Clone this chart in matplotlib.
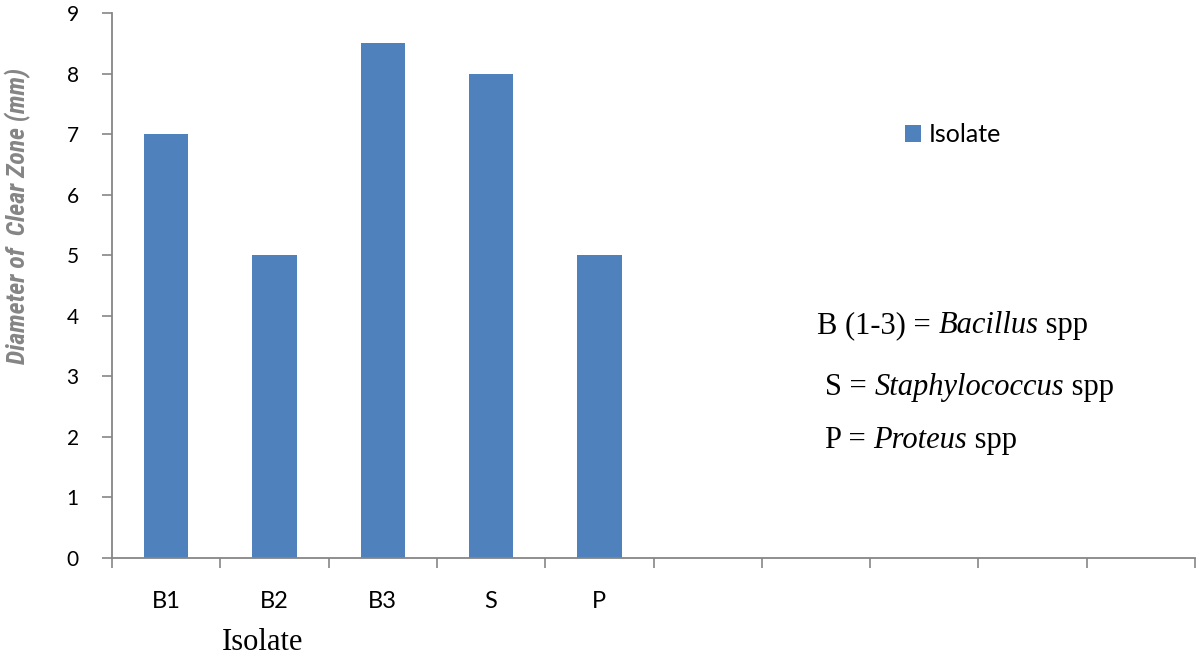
import matplotlib
matplotlib.use("Agg")
import matplotlib.pyplot as plt
import numpy as np

categories = ["B1", "B2", "B3", "S", "P", "", "", "", "", ""]
values = [7, 5, 8.5, 8, 5]
series_name = "Isolate"
yticks = list(range(0, 10))
legend_lines = [
    ("B (1-3) = ", "Bacillus", " spp"),
    ("S = ", "Staphylococcus", " spp"),
    ("P = ", "Proteus", " spp"),
]

fig = plt.figure(figsize=(12, 6.61), dpi=100)
ax = fig.add_axes([112/1200, 1-558/661, (1195-112)/1200, (558-13)/661])

bar_color = "#4F81BD"
axis_color = "#868686"
x = np.arange(len(values))
ax.bar(x, values, width=0.41, color=bar_color, label=series_name, zorder=2)

ax.set_xlim(-0.5, len(categories) - 0.5)
ax.set_ylim(0, 9)
ax.set_yticks(yticks)
ax.set_xticks(np.arange(len(categories)))
ax.set_xticklabels(categories)
ax.set_xticks(np.arange(len(categories) + 1) - 0.5, minor=True)

for s in ["top", "right"]:
    ax.spines[s].set_visible(False)
for s in ["left", "bottom"]:
    ax.spines[s].set_color(axis_color)
    ax.spines[s].set_linewidth(1.3)

tick_font = "Lato"
ax.tick_params(axis='y', which='major', length=7, width=1.2, color=axis_color,
               pad=17, labelsize=15, labelcolor="black")
ax.tick_params(axis='x', which='major', length=0, pad=24, labelsize=17)
ax.tick_params(axis='x', which='minor', length=7, width=1.2, color=axis_color)
for lbl in ax.get_xticklabels() + ax.get_yticklabels():
    lbl.set_fontfamily(tick_font)

fig.text(263/1200, 1-642/661, "Isolate", ha='center', va='center',
         fontsize=22, family="Liberation Serif")

fig.text(18/1200, 1-216/661, "Diameter of  Clear Zone (mm)", rotation=90,
         ha='center', va='center', fontsize=18.5, fontweight='bold', fontstyle='italic',
         family=["Roboto Condensed", "Open Sans Condensed", "Roboto"],
         fontstretch='condensed', color="#858585")

leg = ax.legend(loc='center left', bbox_to_anchor=(905/1200, 1-135/661),
                bbox_transform=fig.transFigure, frameon=False,
                prop={'family': tick_font, 'size': 18},
                handlelength=0.65, handleheight=0.65, handletextpad=0.3,
                borderpad=0, borderaxespad=0)

starts = [(817, 333), (825, 395), (825, 448)]
for (sx, sy), (a, b, c) in zip(starts, legend_lines):
    t1 = fig.text(sx/1200, 1-sy/661, a, ha='left', va='baseline',
                  fontsize=22, family="Liberation Serif")
    t2 = ax.annotate(b, xy=(1, 0), xycoords=t1, ha='left', va='bottom',
                     fontsize=22, family="Liberation Serif", style='italic',
                     annotation_clip=False)
    ax.annotate(c, xy=(1, 0), xycoords=t2, ha='left', va='bottom',
                fontsize=22, family="Liberation Serif", annotation_clip=False)

fig.savefig("out.png", dpi=100)
